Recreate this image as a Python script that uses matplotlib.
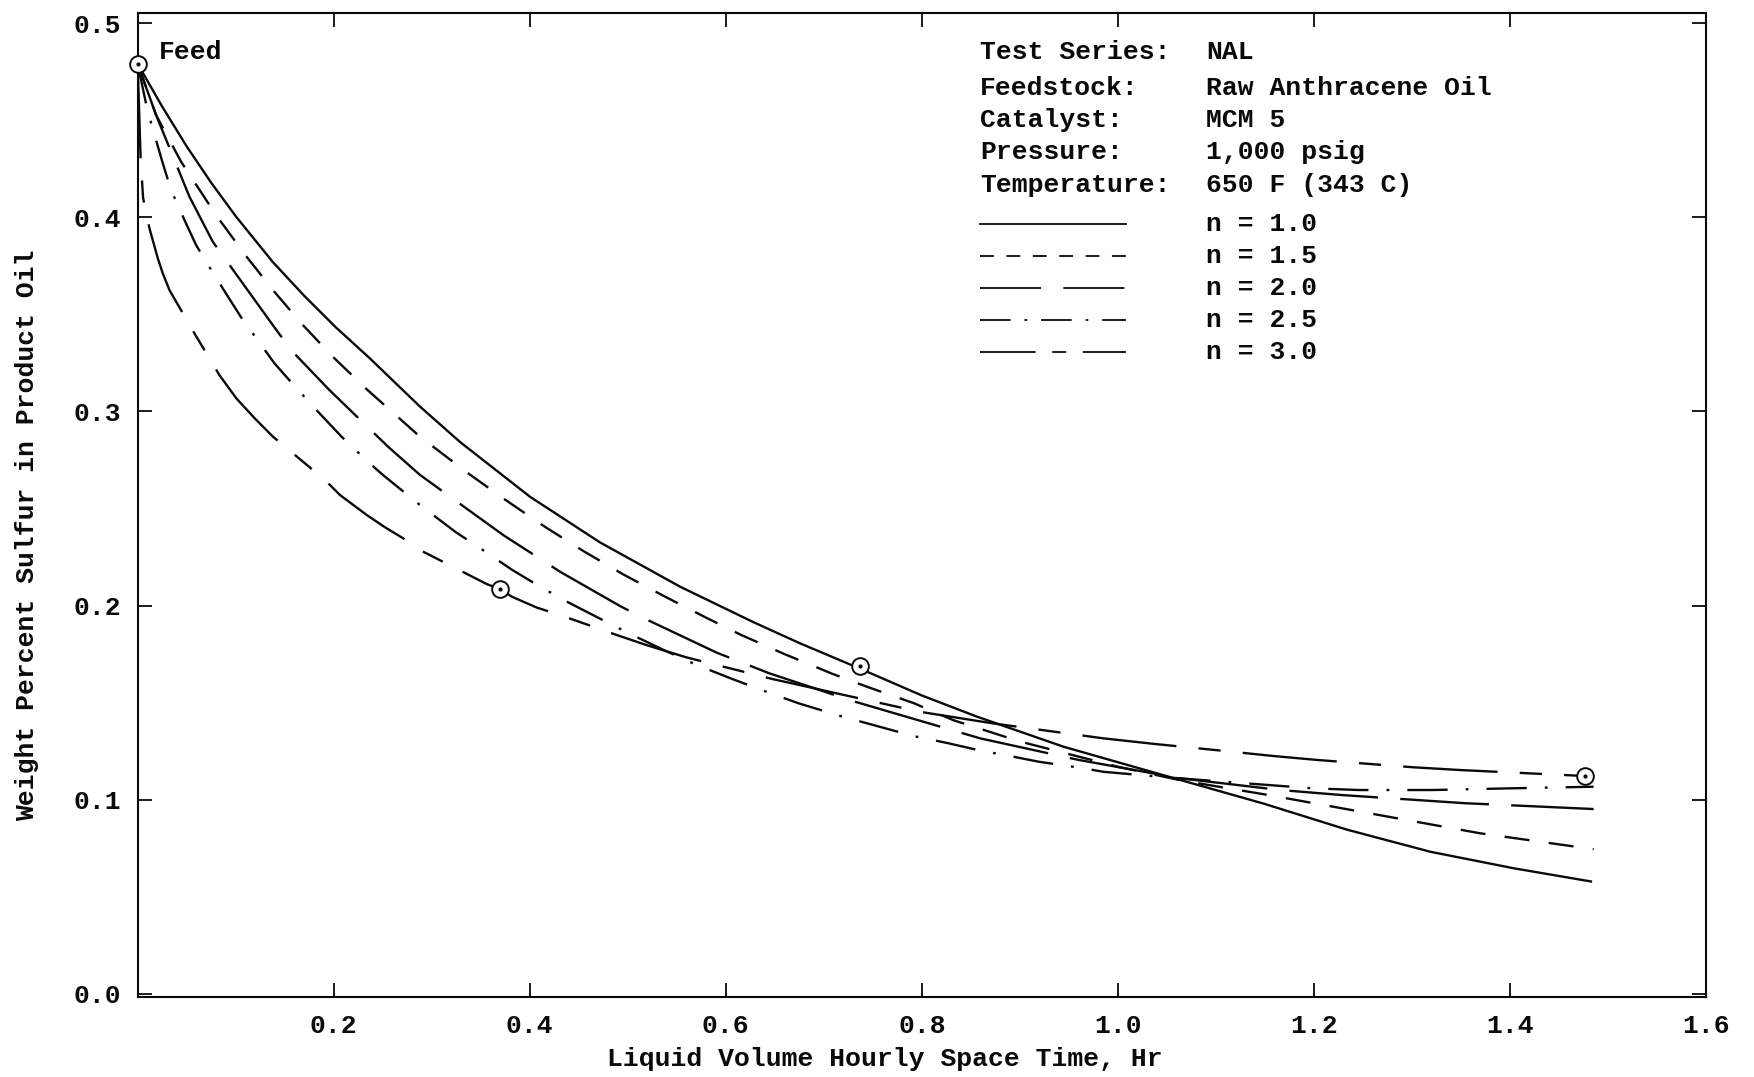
import matplotlib
matplotlib.use("Agg")
import matplotlib.pyplot as plt

plt.rcParams["font.family"] = ["Liberation Mono", "DejaVu Sans Mono"]
plt.rcParams["lines.scale_dashes"] = False

# ---------------------------------------------------------------------------
# Data
# ---------------------------------------------------------------------------
# measured points: feed + three space times
point_x = [0.0, 0.370, 0.737, 1.477]
point_y = [0.479, 0.2084, 0.1689, 0.1122]

# n = 1.0
n10_x = [0.0, 0.025, 0.05, 0.075, 0.1004, 0.1378, 0.17, 0.2024, 0.2365, 0.288,
         0.329, 0.4004, 0.4718, 0.5535, 0.628, 0.676, 0.737, 0.80, 0.8562,
         0.9446, 1.03, 1.1487, 1.2337, 1.3188, 1.4038, 1.4838]
n10_y = [0.479, 0.457, 0.4365, 0.4178, 0.4003, 0.377, 0.3595, 0.3432, 0.3275, 0.3025,
         0.2842, 0.256, 0.2325, 0.2097, 0.1915, 0.1805, 0.1675, 0.1537, 0.1428,
         0.1273, 0.1150, 0.0980, 0.0846, 0.0732, 0.0647, 0.0578]

# n = 1.5
n15_x = [0.0, 0.0188, 0.0443, 0.080, 0.1106, 0.1395, 0.1685, 0.199, 0.233, 0.288,
         0.3375, 0.373, 0.4157, 0.455, 0.4956, 0.538, 0.581, 0.616, 0.659, 0.708,
         0.744, 0.792, 0.832, 0.90, 1.0, 1.064, 1.1538, 1.2252, 1.2984, 1.3698,
         1.4854]
n15_y = [0.479, 0.4526, 0.4286, 0.4011, 0.380, 0.3616, 0.3445, 0.3282, 0.3117, 0.287,
         0.268, 0.2552, 0.2405, 0.2280, 0.2160, 0.2046, 0.1935, 0.1848, 0.1752, 0.1650,
         0.1582, 0.1497, 0.1410, 0.130, 0.117, 0.110, 0.1024, 0.0959, 0.0892, 0.0827,
         0.0745]

# n = 2.0
n20_x = [0.0, 0.0188, 0.0528, 0.0766, 0.1378, 0.1565, 0.1956, 0.2555, 0.288, 0.373,
         0.431, 0.492, 0.513, 0.591, 0.645, 0.69, 0.725, 0.819, 0.8596, 0.96,
         1.064, 1.1657, 1.2287, 1.3545, 1.4854]
n20_y = [0.479, 0.4526, 0.4106, 0.3874, 0.3445, 0.3316, 0.311, 0.2818, 0.2673, 0.2363,
         0.2174, 0.1998, 0.1943, 0.1757, 0.165, 0.1575, 0.1515, 0.1376, 0.1316, 0.1205,
         0.111, 0.105, 0.1024, 0.0982, 0.0952]

# n = 2.5
n25_x = [0.0, 0.01, 0.0256, 0.0341, 0.0477, 0.0596, 0.0698, 0.090, 0.1055, 0.1395,
         0.157, 0.1807, 0.208, 0.235, 0.2504, 0.288, 0.324, 0.351, 0.3817, 0.407,
         0.436, 0.470, 0.502, 0.538, 0.569, 0.605, 0.635, 0.674, 0.717, 0.7627,
         0.7915, 0.827, 0.8596, 0.890, 0.919, 0.965, 0.985, 1.05, 1.198, 1.2456,
         1.3215, 1.4038, 1.4854]
n25_y = [0.479, 0.455, 0.4278, 0.414, 0.3986, 0.3857, 0.3771, 0.3608, 0.3485, 0.3248,
         0.3148, 0.3016, 0.287, 0.274, 0.2672, 0.2518, 0.238, 0.229, 0.2185, 0.2108,
         0.2025, 0.1937, 0.1855, 0.1768, 0.1697, 0.1625, 0.1568, 0.1497, 0.1431, 0.1368,
         0.1328, 0.1291, 0.1253, 0.1225, 0.1196, 0.1162, 0.1144, 0.1115, 0.1059, 0.105,
         0.105, 0.1059, 0.1067]

# n = 3.0
n30_x = [0.0, 0.003, 0.0055, 0.012, 0.0205, 0.0256, 0.0324, 0.0579, 0.0834, 0.1007,
         0.1195, 0.138, 0.191, 0.2065, 0.2338, 0.2524, 0.271, 0.288, 0.356, 0.370,
         0.3817, 0.407, 0.431, 0.489, 0.52, 0.560, 0.649, 0.676, 0.705, 0.798, 0.8715,
         0.9854, 1.038, 1.105, 1.159, 1.203, 1.3017, 1.349, 1.477]
n30_y = [0.479, 0.43, 0.41, 0.3943, 0.3789, 0.3711, 0.3625, 0.3402, 0.3187, 0.3067,
         0.2964, 0.287, 0.2647, 0.2569, 0.2466, 0.2403, 0.2346, 0.2286, 0.2111, 0.2084,
         0.2046, 0.199, 0.1951, 0.1848, 0.1795, 0.1733, 0.162, 0.159, 0.1557, 0.1453,
         0.1394, 0.1316, 0.1287, 0.1253, 0.1225, 0.1205, 0.1167, 0.1153, 0.1122]

series_labels = ["n = 1.0", "n = 1.5", "n = 2.0", "n = 2.5", "n = 3.0"]
info_keys = ["Test Series:", "Feedstock:", "Catalyst:", "Pressure:", "Temperature:"]
info_vals = ["NAL", "Raw Anthracene Oil", "MCM 5", "1,000 psig", "650 F (343 C)"]

x_ticks = [0.2, 0.4, 0.6, 0.8, 1.0, 1.2, 1.4, 1.6]
y_ticks = [0.0, 0.1, 0.2, 0.3, 0.4, 0.5]

# ---------------------------------------------------------------------------
# Styles (dash patterns in points); the key uses slightly shorter dashes
# ---------------------------------------------------------------------------
INK = "#0a0a0a"
LW = 1.7
curve_styles = [
    "-",
    (0, (18, 14)),
    (0, (64, 16)),
    (0, (29, 13, 2, 13)),
    (0, (68, 16, 16, 16)),
]
key_styles = [
    "-",
    (0, (10, 9)),
    (0, (44, 16)),
    (0, (22, 10, 2, 10)),
    (0, (40, 12, 10, 12)),
]
FS = 19
TXT = dict(fontsize=FS, color=INK, fontweight="bold")

fig = plt.figure(figsize=(17.54, 10.77), dpi=100)
ax = fig.add_axes([0.0785, 0.0743, 0.8941, 0.9136])

curves = [(n10_x, n10_y), (n15_x, n15_y), (n20_x, n20_y),
          (n25_x, n25_y), (n30_x, n30_y)]
for (cx, cy), ls in zip(curves, curve_styles):
    ax.plot(cx, cy, color=INK, linewidth=LW, linestyle=ls,
            solid_capstyle="butt", dash_capstyle="butt")

# measured points: open circle with a centre dot
ax.plot(point_x, point_y, linestyle="none", marker="o", markersize=12,
        markerfacecolor="white", markeredgecolor=INK, markeredgewidth=1.4,
        zorder=5, clip_on=False)
ax.plot(point_x, point_y, linestyle="none", marker="o", markersize=2,
        color=INK, zorder=6, clip_on=False)
ax.text(point_x[0] + 0.0215, point_y[0] + 0.006, "Feed", va="center",
        ha="left", **TXT)

# info block + line key
row_y = [0.9609, 0.9234, 0.8916, 0.8587, 0.8256]
for ry, k, v in zip(row_y, info_keys, info_vals):
    ax.text(0.5371, ry, k, transform=ax.transAxes, va="center", ha="left", **TXT)
    ax.text(0.6812, ry, v, transform=ax.transAxes, va="center", ha="left", **TXT)

key_y = [0.7859, 0.7528, 0.7210, 0.6881, 0.6551]
for ky, lab, ls in zip(key_y, series_labels, key_styles):
    ax.plot([0.5371, 0.6300], [ky, ky], transform=ax.transAxes, color=INK,
            linewidth=1.3, linestyle=ls)
    ax.text(0.6812, ky, lab, transform=ax.transAxes, va="center", ha="left", **TXT)

ax.set_xlim(0, 1.6)
ax.set_ylim(-0.0016, 0.5052)
ax.set_xticks(x_ticks)
ax.set_xticklabels([f"{t:.1f}" for t in x_ticks])
ax.set_yticks(y_ticks)
ax.set_yticklabels([f"{t:.1f}" for t in y_ticks])
ax.tick_params(direction="in", length=10, width=1.3, colors=INK,
               labelsize=FS, top=True, right=True, pad=12)
for lab in ax.get_xticklabels() + ax.get_yticklabels():
    lab.set_fontweight("bold")
for s in ax.spines.values():
    s.set_linewidth(1.5)
    s.set_color(INK)

ax.set_xlabel("Liquid Volume Hourly Space Time, Hr", **TXT)
ax.set_ylabel("Weight Percent Sulfur in Product Oil", **TXT)
ax.xaxis.set_label_coords(0.4764, -0.0508)
ax.yaxis.set_label_coords(-0.0630, 0.4695)

fig.savefig("out.png", dpi=100, facecolor="white")
